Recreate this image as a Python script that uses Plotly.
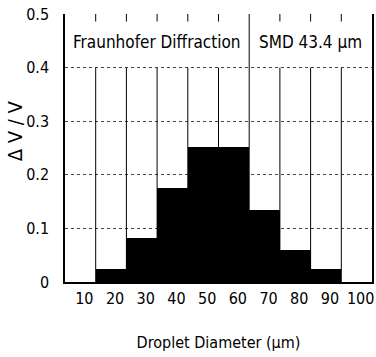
import plotly.graph_objects as go

bin_centers = [20, 30, 40, 50, 60, 70, 80, 90]
dv_over_v = [0.024, 0.082, 0.175, 0.252, 0.252, 0.134, 0.060, 0.024]
x_ticks = [10, 20, 30, 40, 50, 60, 70, 80, 90, 100]
bin_edges = [15, 25, 35, 45, 55, 65, 75, 85, 95]
y_ticks = [0, 0.1, 0.2, 0.3, 0.4, 0.5]
y_tick_text = ["0", "0.1", "0.2", "0.3", "0.4", "0.5"]

FONT = "DejaVu Sans Condensed, Liberation Sans Narrow, sans-serif"
BOX_BOTTOM, BOX_TOP, DIVIDER = 0.4, 0.486, 65

fig = go.Figure()
fig.add_trace(go.Bar(x=bin_centers, y=dv_over_v, width=10,
                     marker=dict(color="black", line=dict(width=0))))

fig.update_layout(
    width=376, height=357,
    margin=dict(l=65, r=2, t=14, b=75),
    paper_bgcolor="white", plot_bgcolor="white",
    showlegend=False,
    font=dict(family=FONT, size=16, color="black"),
    bargap=0,
    xaxis=dict(
        range=[5, 105], tickvals=x_ticks, ticktext=[str(v) for v in x_ticks],
        showgrid=False, showline=True, linecolor="black", linewidth=1.5,
        ticks="", ticklabelstandoff=1, ticklabelshift=4, ticklabeloverflow="allow",
        tickfont=dict(family=FONT, size=16),
        title=dict(text="Droplet Diameter (μm)", standoff=30,
                   font=dict(family=FONT, size=16)),
        zeroline=False,
    ),
    yaxis=dict(
        range=[0, 0.5], tickvals=y_ticks, ticktext=y_tick_text,
        showgrid=True, gridcolor="#444", griddash="dot", gridwidth=1,
        showline=True, mirror=True, linecolor="black", linewidth=1.5,
        ticks="", ticklabelstandoff=11,
        tickfont=dict(family=FONT, size=16),
        zeroline=False,
    ),
)

# vertical grid lines at bin edges, interrupted by the label box
for e in bin_edges:
    if e == DIVIDER:
        fig.add_shape(type="line", xref="x", yref="y", x0=e, x1=e, y0=0, y1=0.5,
                      line=dict(color="black", width=1), layer="between")
    else:
        fig.add_shape(type="line", xref="x", yref="y", x0=e, x1=e, y0=0, y1=BOX_BOTTOM,
                      line=dict(color="black", width=1), layer="between")
        fig.add_shape(type="line", xref="x", yref="y", x0=e, x1=e, y0=BOX_TOP, y1=0.5,
                      line=dict(color="black", width=1), layer="between")

fig.add_annotation(x=35, y=0.447, xref="x", yref="y", text="Fraunhofer Diffraction",
                   showarrow=False, font=dict(family=FONT, size=17))
fig.add_annotation(x=85, y=0.447, xref="x", yref="y", text="SMD 43.4 μm",
                   showarrow=False, font=dict(family=FONT, size=17))
fig.add_annotation(x=-50 / 309, y=(282 - 131) / 268, xref="paper", yref="paper",
                   text="Δ V / V", textangle=-90, showarrow=False,
                   xanchor="center", yanchor="middle",
                   font=dict(family=FONT, size=20))

fig.write_html("out.html")
